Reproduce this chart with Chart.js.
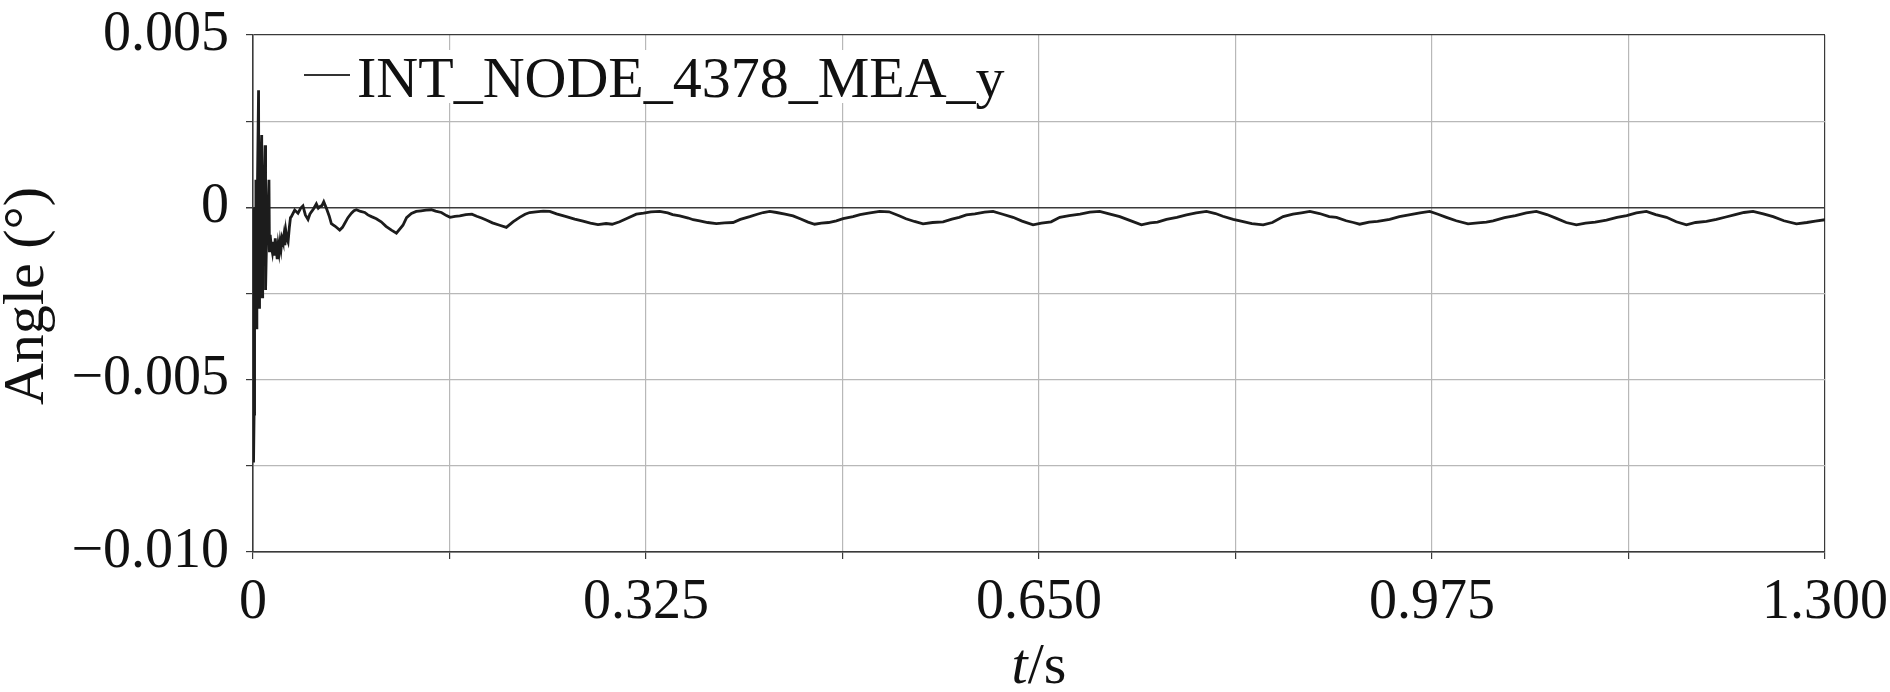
<!DOCTYPE html>
<html>
<head>
<meta charset="utf-8">
<script src="https://cdn.jsdelivr.net/npm/chart.js@4.4.1/dist/chart.umd.min.js"></script>
<style>
  html, body { margin: 0; padding: 0; background: #ffffff; }
  #wrap { width: 1890px; height: 692px; }
</style>
</head>
<body>
<div id="wrap"><canvas id="c" width="1890" height="692"></canvas></div>
<script>
// ---- data ----
const seriesLabel = 'INT_NODE_4378_MEA_y';
const xTitleItalic = 't';
const xTitleRest = '/s';
const yTitle = 'Angle (°)';

const xTickValues = [0, 0.1625, 0.325, 0.4875, 0.65, 0.8125, 0.975, 1.1375, 1.3];
const xTickLabels = ['0', '', '0.325', '', '0.650', '', '0.975', '', '1.300'];
const yTickValues = [-0.01, -0.0075, -0.005, -0.0025, 0, 0.0025, 0.005];
const yTickLabels = ['\u22120.010', '', '\u22120.005', '', '0', '', '0.005'];

const timeS = [
  0.0000, 0.0003, 0.0006, 0.0009, 0.0013, 0.0018, 0.0024, 0.0028, 0.0032, 0.0038,
  0.0046, 0.0050, 0.0054, 0.0060, 0.0072, 0.0076, 0.0080, 0.0090, 0.0100, 0.0104,
  0.0110, 0.0120, 0.0132, 0.0136, 0.0142, 0.0150,
  0.0160, 0.0168, 0.0176, 0.0184, 0.0192,
  0.0200, 0.0208, 0.0216, 0.0224, 0.0232, 0.0240, 0.0248, 0.0256, 0.0264, 0.0272,
  0.0280, 0.0290, 0.0300, 0.0310,
  0.0317, 0.0345, 0.0372, 0.0395, 0.0413, 0.0433, 0.0455, 0.0470, 0.0483, 0.0500,
  0.0524, 0.0540, 0.0552, 0.0570, 0.0585, 0.0607, 0.0630, 0.0648, 0.0680, 0.0717,
  0.0740, 0.0758, 0.0785, 0.0814, 0.0835, 0.0855, 0.0890, 0.0924, 0.0950, 0.0980,
  0.1020, 0.1060, 0.1100, 0.1145, 0.1186, 0.1240, 0.1270, 0.1310, 0.1350, 0.1390,
  0.1430, 0.1475, 0.1510, 0.1558, 0.1600, 0.1630, 0.1670, 0.1710, 0.1760, 0.1810,
  0.1850, 0.1890, 0.1929, 0.1980, 0.2040, 0.2095, 0.2150, 0.2205, 0.2250, 0.2288,
  0.2340, 0.2400, 0.2454, 0.2510, 0.2591, 0.2660, 0.2729, 0.2790, 0.2853, 0.2920,
  0.2970, 0.3032, 0.3100, 0.3170, 0.3230, 0.3290, 0.3363, 0.3430, 0.3470, 0.3529,
  0.3600, 0.3640, 0.3694, 0.3760, 0.3832, 0.3900, 0.3970, 0.4030, 0.4108, 0.4170,
  0.4220, 0.4273, 0.4330, 0.4400, 0.4466, 0.4530, 0.4590, 0.4645, 0.4700, 0.4760,
  0.4824, 0.4880, 0.4962, 0.5020, 0.5090, 0.5182, 0.5260, 0.5348, 0.5400, 0.5470,
  0.5541, 0.5620, 0.5707, 0.5780, 0.5840, 0.5899, 0.5970, 0.6050, 0.6120, 0.6200,
  0.6285, 0.6360, 0.6451, 0.6520, 0.6600, 0.6672, 0.6750, 0.6840, 0.6920, 0.7002,
  0.7080, 0.7168, 0.7250, 0.7347, 0.7420, 0.7480, 0.7554, 0.7640, 0.7720, 0.7800,
  0.7885, 0.7960, 0.8020, 0.8106, 0.8180, 0.8260, 0.8354, 0.8430, 0.8519, 0.8600,
  0.8670, 0.8740, 0.8820, 0.8900, 0.8960, 0.9040, 0.9100, 0.9152, 0.9230, 0.9300,
  0.9400, 0.9480, 0.9560, 0.9650, 0.9731, 0.9800, 0.9869, 0.9950, 1.0048, 1.0130,
  1.0200, 1.0255, 1.0350, 1.0440, 1.0530, 1.0613, 1.0700, 1.0779, 1.0860, 1.0944,
  1.1020, 1.1100, 1.1193, 1.1280, 1.1360, 1.1440, 1.1523, 1.1600, 1.1689, 1.1770,
  1.1854, 1.1930, 1.2020, 1.2102, 1.2180, 1.2250, 1.2330, 1.2405, 1.2490, 1.2571,
  1.2660, 1.2764, 1.2850, 1.2920, 1.3000
];

const angleDeg = [
  0, -0.0040, -0.0074, -0.0060, -0.0020, -0.0008, 0.0008, -0.0035, -0.0010, 0.0010,
  0.0034, -0.0029, -0.0012, 0.0006, 0.0021, -0.0026, -0.0016, 0.0003, 0.0018, -0.0024,
  -0.0013, -0.0004, 0.0008, -0.0013, -0.0008, -0.0011,
  -0.0013, -0.0010, -0.0014, -0.0009, -0.0012,
  -0.0015, -0.0011, -0.0013, -0.0010, -0.0012, -0.0009, -0.0010, -0.0008, -0.0011, -0.0007,
  -0.0009, -0.0010, -0.0006, -0.0003,
  -0.00027, -0.00008, -0.00017, -0.00002, 0.00004, -0.00022, -0.00035, -0.00020, -0.00013, -0.00005,
  0.00010, -0.00002, 0.00002, 0.00005, 0.00016, -0.00003, -0.00025, -0.00047, -0.00055, -0.00066,
  -0.00058, -0.00047, -0.00030, -0.00017, -0.00010, -0.00007, -0.00012, -0.00015, -0.00022, -0.00027,
  -0.00033, -0.00042, -0.00055, -0.00066, -0.00075, -0.00052, -0.00030, -0.00018, -0.00012, -0.00010,
  -0.00008, -0.00007, -0.00011, -0.00015, -0.00024, -0.00029, -0.00026, -0.00025, -0.00021, -0.00020,
  -0.00026, -0.00031, -0.00037, -0.00045, -0.00052, -0.00058, -0.00042, -0.00029, -0.00020, -0.00015,
  -0.00013, -0.00011, -0.00012, -0.00019, -0.00027, -0.00034, -0.00040, -0.00046, -0.00050, -0.00047,
  -0.00049, -0.00042, -0.00031, -0.00020, -0.00017, -0.00013, -0.00012, -0.00016, -0.00021, -0.00025,
  -0.00031, -0.00036, -0.00039, -0.00044, -0.00047, -0.00045, -0.00044, -0.00035, -0.00027, -0.00020,
  -0.00015, -0.00012, -0.00015, -0.00020, -0.00025, -0.00034, -0.00043, -0.00049, -0.00046, -0.00044,
  -0.00039, -0.00033, -0.00027, -0.00021, -0.00017, -0.00012, -0.00013, -0.00025, -0.00033, -0.00041,
  -0.00048, -0.00044, -0.00042, -0.00034, -0.00029, -0.00022, -0.00019, -0.00014, -0.00012, -0.00020,
  -0.00029, -0.00040, -0.00051, -0.00046, -0.00042, -0.00029, -0.00024, -0.00020, -0.00014, -0.00012,
  -0.00019, -0.00027, -0.00038, -0.00051, -0.00045, -0.00043, -0.00035, -0.00029, -0.00022, -0.00016,
  -0.00012, -0.00018, -0.00026, -0.00035, -0.00041, -0.00047, -0.00051, -0.00044, -0.00027, -0.00020,
  -0.00016, -0.00012, -0.00018, -0.00027, -0.00029, -0.00039, -0.00044, -0.00049, -0.00043, -0.00041,
  -0.00035, -0.00027, -0.00022, -0.00016, -0.00012, -0.00020, -0.00029, -0.00039, -0.00048, -0.00045,
  -0.00043, -0.00039, -0.00030, -0.00024, -0.00016, -0.00012, -0.00021, -0.00032, -0.00044, -0.00051,
  -0.00046, -0.00043, -0.00037, -0.00029, -0.00024, -0.00016, -0.00012, -0.00021, -0.00029, -0.00042,
  -0.00051, -0.00044, -0.00041, -0.00035, -0.00028, -0.00022, -0.00015, -0.00012, -0.00019, -0.00027,
  -0.00039, -0.00048, -0.00044, -0.00040, -0.00036
];

// ---- styling ----
const FONT = "'Liberation Serif', 'Times New Roman', serif";
const TICK_SIZE = 56;
const DARK = '#3a3a3a';
const LIGHT = '#b8b8b8';

const points = timeS.map((t, i) => ({ x: t, y: angleDeg[i] }));

function zeroPadding(scale) {
  scale.paddingTop = 0;
  scale.paddingBottom = 0;
  scale.paddingLeft = 0;
  scale.paddingRight = 0;
}

const overlayPlugin = {
  id: 'overlay',
  afterDraw(chart) {
    const ctx = chart.ctx;
    const area = chart.chartArea;
    const ds = chart.data.datasets[0];
    ctx.save();
    // legend box inside the plot
    ctx.fillStyle = '#ffffff';
    ctx.fillRect(296, 50, 720, 53);
    ctx.strokeStyle = '#333333';
    ctx.lineWidth = 2;
    ctx.beginPath();
    ctx.moveTo(304, 75);
    ctx.lineTo(350, 75);
    ctx.stroke();
    ctx.fillStyle = '#111111';
    ctx.font = `58px ${FONT}`;
    ctx.textAlign = 'left';
    ctx.textBaseline = 'alphabetic';
    ctx.fillText(ds.label, 357, 97);

    // y axis title
    ctx.save();
    ctx.translate(43, 296);
    ctx.rotate(-Math.PI / 2);
    ctx.textAlign = 'center';
    ctx.font = `58px ${FONT}`;
    ctx.fillText(yTitle, 0, 0);
    ctx.restore();

    // x axis title (italic t + /s)
    ctx.font = `italic 58px ${FONT}`;
    const w1 = ctx.measureText(xTitleItalic).width;
    ctx.font = `58px ${FONT}`;
    const w2 = ctx.measureText(xTitleRest).width;
    const cx = (area.left + area.right) / 2;
    const x0 = cx - (w1 + w2) / 2;
    ctx.textAlign = 'left';
    ctx.font = `italic 58px ${FONT}`;
    ctx.fillText(xTitleItalic, x0, 683);
    ctx.font = `58px ${FONT}`;
    ctx.fillText(xTitleRest, x0 + w1, 683);
    ctx.restore();
  }
};

new Chart(document.getElementById('c'), {
  type: 'line',
  data: {
    datasets: [{
      label: seriesLabel,
      data: points,
      borderColor: '#1c1c1c',
      borderWidth: 2.8,
      pointRadius: 0,
      tension: 0,
      fill: false
    }]
  },
  options: {
    responsive: false,
    animation: false,
    events: [],
    layout: { padding: { top: 35, right: 65, left: 0, bottom: 0 } },
    plugins: { legend: { display: false }, tooltip: { enabled: false } },
    scales: {
      x: {
        type: 'linear',
        min: 0,
        max: 1.3,
        afterBuildTicks(scale) { scale.ticks = xTickValues.map(v => ({ value: v })); },
        afterFit(scale) { scale.height = 140; zeroPadding(scale); },
        grid: {
          color: ctx => (ctx.tick && (ctx.tick.value === 0 || ctx.tick.value === 1.3)) ? DARK : LIGHT,
          lineWidth: 1.2,
          drawTicks: true,
          tickLength: 7,
          tickColor: DARK
        },
        border: { display: true, color: DARK, width: 1.5 },
        ticks: {
          autoSkip: false,
          maxRotation: 0,
          minRotation: 0,
          padding: 11,
          color: '#111111',
          font: { family: FONT, size: TICK_SIZE },
          callback: (v, i) => xTickLabels[i]
        }
      },
      y: {
        type: 'linear',
        min: -0.01,
        max: 0.005,
        afterBuildTicks(scale) { scale.ticks = yTickValues.map(v => ({ value: v })); },
        afterFit(scale) { scale.width = 253; zeroPadding(scale); },
        grid: {
          color: ctx => (ctx.tick && (ctx.tick.value === 0 || ctx.tick.value === 0.005 || ctx.tick.value === -0.01)) ? DARK : LIGHT,
          lineWidth: ctx => (ctx.tick && ctx.tick.value === 0) ? 1.5 : 1.2,
          drawTicks: true,
          tickLength: 7,
          tickColor: DARK
        },
        border: { display: true, color: DARK, width: 1.5 },
        ticks: {
          autoSkip: false,
          padding: 17,
          color: '#111111',
          font: { family: FONT, size: TICK_SIZE },
          callback: (v, i) => yTickLabels[i]
        }
      }
    }
  },
  plugins: [overlayPlugin]
});
</script>
</body>
</html>
